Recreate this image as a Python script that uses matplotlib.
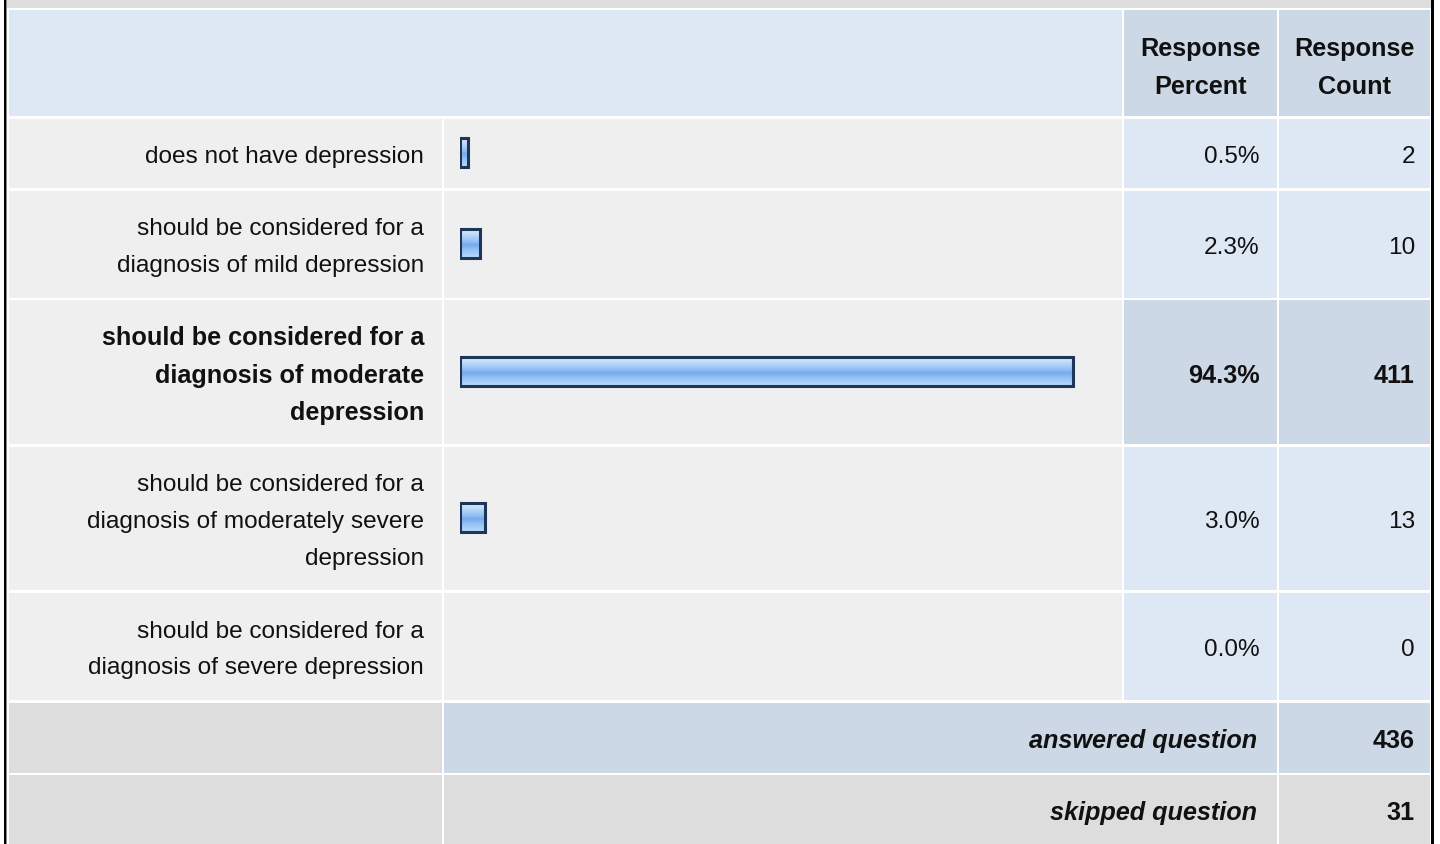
import numpy as np
import matplotlib.pyplot as plt
from matplotlib.patches import Rectangle
from matplotlib.colors import LinearSegmentedColormap

plt.rcParams['font.family'] = ['Liberation Sans', 'DejaVu Sans']

# survey data
answers = [
    "does not have depression",
    "should be considered for a\ndiagnosis of mild depression",
    "should be considered for a\ndiagnosis of moderate\ndepression",
    "should be considered for a\ndiagnosis of moderately severe\ndepression",
    "should be considered for a\ndiagnosis of severe depression",
]
percents = [0.5, 2.3, 94.3, 3.0, 0.0]
counts = [2, 10, 411, 13, 0]
headers = ["Response\nPercent", "Response\nCount"]
answered_label = "answered question"
skipped_label = "skipped question"
answered = 436
skipped = 31

# colours
BLUE_LIGHT = '#dee8f5'
BLUE_MID = '#cdd8e6'
GREY_LIGHT = '#efefef'
GREY_DARK = '#dddddd'
TEXT = '#111111'

# table layout in pixels
col_edges = [9, 444, 1124.3, 1279, 1432.3]
row_edges = [10, 118.5, 190.7, 300, 446.5, 592.5, 702.7, 775, 846]
gap = 2.3
fs = 17.6
fs_b = 18.2
ls = 1.87
ls_b = 1.7
dy = 3.5  # nudge: visual centre of glyphs vs text box

fig = plt.figure(figsize=(14.4, 8.44), dpi=100)
ax = fig.add_axes([0, 0, 1, 1])
ax.set_xlim(0, 1440)
ax.set_ylim(844, 0)
ax.axis('off')


def cell(c0, c1, r, color):
    x0 = col_edges[c0]
    x1 = col_edges[c1] - gap
    y0 = row_edges[r]
    y1 = row_edges[r + 1] - gap
    ax.add_patch(Rectangle((x0, y0), x1 - x0, y1 - y0, facecolor=color,
                           edgecolor='none', zorder=1))
    return x0, x1, (y0 + y1) / 2


# top strip and outer black borders
ax.add_patch(Rectangle((7, 0), 1424, 7.5, facecolor=GREY_DARK, edgecolor='none'))
ax.add_patch(Rectangle((4, 0), 2.3, 844, facecolor='black', edgecolor='none', zorder=3))
ax.add_patch(Rectangle((6.3, 0), 1, 844, facecolor='#888888', edgecolor='none', zorder=3))
ax.add_patch(Rectangle((1431.3, 0), 2.4, 844, facecolor='black', edgecolor='none', zorder=3))

# header row
cell(0, 2, 0, BLUE_LIGHT)
for i, h in enumerate(headers):
    x0, x1, yc = cell(2 + i, 3 + i, 0, BLUE_MID)
    ax.text((x0 + x1) / 2, yc + dy + 1.5, h, ha='center', va='center',
            fontsize=fs_b, fontweight='bold', color=TEXT, linespacing=ls_b,
            zorder=4)

top = int(np.argmax(percents))
bar_rows = []
for i, (lab, p, n) in enumerate(zip(answers, percents, counts)):
    r = i + 1
    hi = (i == top)
    wt = 'bold' if hi else 'normal'
    size = fs_b if hi else fs
    x0, x1, yc = cell(0, 1, r, GREY_LIGHT)
    ax.text(x1 - 17.5, yc + dy, lab, ha='right', va='center', fontsize=size,
            fontweight=wt, color=TEXT, linespacing=ls_b if hi else ls,
            zorder=4)
    cell(1, 2, r, GREY_LIGHT)
    bar_rows.append(yc - 1)
    x0, x1, yc = cell(2, 3, r, BLUE_MID if hi else BLUE_LIGHT)
    ax.text(x1 - 17, yc + dy, f"{p:.1f}%", ha='right', va='center',
            fontsize=size, fontweight=wt, color=TEXT, zorder=4)
    x0, x1, yc = cell(3, 4, r, BLUE_MID if hi else BLUE_LIGHT)
    ax.text(x1 - 15, yc + dy, str(n), ha='right', va='center', fontsize=size,
            fontweight=wt, color=TEXT, zorder=4)

# footer rows
cell(0, 1, 6, GREY_DARK)
x0, x1, yc = cell(1, 3, 6, BLUE_MID)
ax.text(x1 - 20, yc + dy, answered_label, ha='right', va='center',
        fontsize=fs_b, fontweight='bold', style='italic', color=TEXT, zorder=4)
x0, x1, yc = cell(3, 4, 6, BLUE_MID)
ax.text(x1 - 15, yc + dy, str(answered), ha='right', va='center',
        fontsize=fs_b, fontweight='bold', color=TEXT, zorder=4)

cell(0, 1, 7, GREY_DARK)
x0, x1, yc = cell(1, 3, 7, GREY_DARK)
ax.text(x1 - 20, yc + dy, skipped_label, ha='right', va='center',
        fontsize=fs_b, fontweight='bold', style='italic', color=TEXT, zorder=4)
x0, x1, yc = cell(3, 4, 7, GREY_DARK)
ax.text(x1 - 15, yc + dy, str(skipped), ha='right', va='center',
        fontsize=fs_b, fontweight='bold', color=TEXT, zorder=4)

# bar axes: x in percent, y shared in pixels
bar_start = 0.8  # small minimum length, like the survey tool
px_per_pct = 6.45
bx0 = 460
bw = (100 + bar_start) * px_per_pct
bax = fig.add_axes([bx0 / 1440, 0, bw / 1440, 1])
bax.patch.set_alpha(0)
bax.axis('off')

shown = [k for k, p in enumerate(percents) if p > 0]
bars = bax.barh([bar_rows[k] for k in shown],
                [percents[k] + bar_start for k in shown],
                left=-bar_start, height=29, facecolor='none',
                edgecolor='#1d3658', linewidth=2.2, zorder=3)

grad = LinearSegmentedColormap.from_list('bar', [
    (0.0, '#d6e8fc'), (0.2, '#bcd9f9'), (0.45, '#8dbcf3'),
    (0.55, '#76aaee'), (0.7, '#92c0f4'), (1.0, '#bcd9f9')])
g = np.linspace(0, 1, 64).reshape(-1, 1)
for b in bars:
    x, y, w, h = b.get_x(), b.get_y(), b.get_width(), b.get_height()
    bax.imshow(g, cmap=grad, aspect='auto', extent=(x, x + w, y + h, y),
               interpolation='bilinear', zorder=2)

bax.set_xlim(-bar_start, 100)
bax.set_ylim(844, 0)

fig.savefig('out.png', dpi=100)
